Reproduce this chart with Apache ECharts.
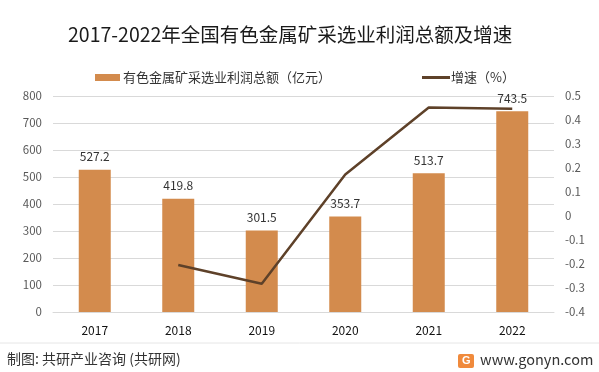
<!DOCTYPE html>
<html><head><meta charset="utf-8">
<script src="https://cdn.jsdelivr.net/npm/echarts@6/dist/echarts.min.js"></script>
<style>html,body{margin:0;padding:0;background:#fff}#c{width:599px;height:372px}</style>
</head><body><div id="c"></div>
<script>
const categories = ['2017','2018','2019','2020','2021','2022'];
const profitValues = [527.2, 419.8, 301.5, 353.7, 513.7, 743.5];
const growthValues = [null, -0.204, -0.282, 0.173, 0.452, 0.447];
const leftTicks = [0,100,200,300,400,500,600,700,800];
const rightTicks = [-0.4,-0.3,-0.2,-0.1,0,0.1,0.2,0.3,0.4,0.5];

const font = '"Microsoft YaHei","Noto Sans CJK SC",sans-serif';
const chart = echarts.init(document.getElementById('c'));
chart.setOption({
  animation: false,
  textStyle: {fontFamily: font},
  title: {text: '2017-2022年全国有色金属矿采选业利润总额及增速', left: 63, top: 20,
    textStyle: {fontSize: 19.5, fontWeight: 'normal', color: '#1a1a1a', fontFamily: font}},
  legend: [
    {top: 66, left: 90, itemWidth: 25, itemHeight: 7, itemGap: 0,
     textStyle: {fontSize: 13, color: '#333', fontFamily: font, padding: [0,0,0,-2]},
     data: [{name: '有色金属矿采选业利润总额（亿元）', icon: 'rect'}]},
    {top: 66, left: 417, itemWidth: 28, itemHeight: 3, itemGap: 0,
     textStyle: {fontSize: 13, color: '#333', fontFamily: font, padding: [0,0,0,-4]},
     data: [{name: '增速（%）', icon: 'rect', itemStyle: {color: '#5E4129'}}]}
  ],
  grid: {left: 53, right: 45, top: 96, bottom: 60},
  xAxis: {type: 'category', data: categories,
    axisLine: {lineStyle: {color: '#d9d9d9'}}, axisTick: {show: false},
    axisLabel: {color: '#111', fontSize: 12, margin: 12}},
  yAxis: [
    {type: 'value', min: 0, max: 800, interval: 100,
     axisLabel: {color: '#595959', fontSize: 11.5, margin: 11,
       formatter: v => leftTicks.includes(v) ? String(v) : ''},
     splitLine: {lineStyle: {color: '#d9d9d9'}}, axisLine: {show: false}, axisTick: {show: false}},
    {type: 'value', min: -0.4, max: 0.5, interval: 0.1,
     axisLabel: {color: '#595959', fontSize: 11.5, margin: 11,
       formatter: v => { const r = Math.round(v*10)/10; return rightTicks.includes(r) ? String(r) : ''; }},
     splitLine: {show: false}, axisLine: {show: false}, axisTick: {show: false}}
  ],
  series: [
    {name: '有色金属矿采选业利润总额（亿元）', type: 'bar', data: profitValues, barWidth: 32,
     itemStyle: {color: '#D38B4D'},
     label: {show: true, position: 'top', distance: 7, color: '#333', fontSize: 12}},
    {name: '增速（%）', type: 'line', yAxisIndex: 1, data: growthValues, symbol: 'none',
     lineStyle: {color: '#5E4129', width: 2.5}, itemStyle: {color: '#5E4129'}}
  ],
  graphic: [
    {type: 'line', shape: {x1: 0, y1: 343, x2: 599, y2: 343}, style: {stroke: '#e6e6e6', lineWidth: 1}},
    {type: 'text', left: 7, top: 352, style: {text: '制图: 共研产业咨询 (共研网)', fontSize: 14, fill: '#333', fontFamily: font}},
    {type: 'rect', shape: {x: 458, y: 354, width: 16, height: 14, r: 2}, style: {fill: '#F08A3C'}},
    {type: 'text', left: 462, top: 355, style: {text: 'G', fontSize: 11, fontWeight: 'bold', fill: '#fff'}},
    {type: 'text', left: 480, top: 352, style: {text: 'www.gonyn.com', fontSize: 14.5, fill: '#333', fontFamily: font}}
  ]
});
</script></body></html>
